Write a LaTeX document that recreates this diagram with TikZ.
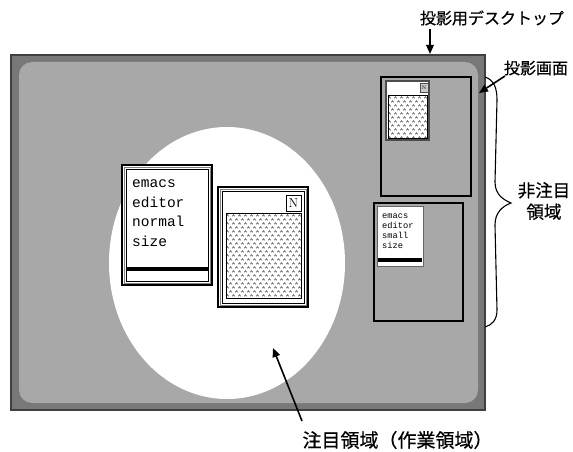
\documentclass[tikz,border=0pt]{standalone}
\usepackage{fontspec}
\newfontfamily\jp[FakeBold=0.6]{Noto Sans CJK JP}
\newfontfamily\mono{Liberation Mono}
\usetikzlibrary{arrows.meta}
\definecolor{framegray}{gray}{0.47}
\definecolor{innergray}{gray}{0.66}
\definecolor{frameline}{gray}{0.25}
\newcommand\caretfill[4]{%
  \begin{scope}
    \clip (#1,#2) rectangle (#3,#4);
    \foreach \cfr in {0,...,22}{%
      \pgfmathsetmacro\cfyy{#2+2.5+\cfr*4}%
      \pgfmathsetmacro\cfoff{mod(\cfr,2)*3}%
      \foreach \cfc in {0,...,13}{%
        \pgfmathsetmacro\cfxx{#1+1.5+\cfoff+\cfc*6}%
        \draw[caret] (\cfxx-1.2,\cfyy+0.8) -- (\cfxx,\cfyy-0.8) -- (\cfxx+1.2,\cfyy+0.8);
      }%
    }%
  \end{scope}}
\tikzset{
  lbl/.style={font=\jp\fontsize{16}{16}\selectfont, inner sep=0pt},
  arr/.style={line width=1.6pt, -{Triangle[length=9pt,width=7.5pt]}},
  caret/.style={line width=0.35pt},
  mtext/.style={font=\mono\fontsize{14.5}{14.5}\selectfont, anchor=base west, inner sep=0pt},
  stext/.style={font=\mono\fontsize{8.7}{8.7}\selectfont, anchor=base west, inner sep=0pt},
  proj/.style={draw=black, line width=1.5pt},
}
\begin{document}
\begin{tikzpicture}[x=1pt,y=-1pt]
\useasboundingbox (0,0) rectangle (573,452);
% desktop frame
\fill[framegray] (11,55) rectangle (485,410);
\draw[frameline, line width=2pt] (11,55) rectangle (485,410);
\fill[innergray, rounded corners=13pt] (19,62) rectangle (478,403);
% attention area
\fill[white] (227,263) ellipse [x radius=118, y radius=136];

% left window (emacs normal size)
\fill[white] (122,165) rectangle (212,285);
\draw[line width=1.3pt] (122,165) rectangle (212,285);
\draw[gray, line width=0.6pt] (124,167) rectangle (210,283);
\draw[line width=0.8pt] (126,169) rectangle (208,281);
\fill[black] (126,267) rectangle (208,271);
\node[mtext] (l1) at (132,187) {emacs};
\node[mtext] (l2) at (132,207) {editor};
\node[mtext] (l3) at (132,226) {normal};
\node[mtext] (l4) at (132,246) {size};

% N window
\fill[white] (218,187) rectangle (308,307);
\draw[line width=1.3pt] (218,187) rectangle (308,307);
\draw[gray, line width=0.6pt] (220,189) rectangle (306,305);
\draw[line width=0.8pt] (222,191) rectangle (304,303);
\caretfill{226}{213}{301}{298}
\draw[line width=0.8pt] (226,213) rectangle (301,298);
\draw[line width=0.8pt] (286,195) rectangle (301,211);
\node[font=\fontsize{13}{13}\selectfont, inner sep=0pt] (nbig) at (293.5,203.5) {N};

% projection screens
\draw[proj] (381,77) rectangle (471,196);
\fill[white] (386,81) rectangle (429,140);
\caretfill{388}{95}{427}{138}
\draw[black!70, line width=1.2pt] (386,81) rectangle (429,140);
\draw[line width=0.5pt] (388,95) rectangle (427,138);
\fill[gray!40] (420,83) rectangle (428,92);
\draw[black!70, line width=0.5pt] (420,83) rectangle (428,92);
\node[font=\fontsize{5}{5}\selectfont, inner sep=0pt] (nsmall) at (424,87.5) {N};

\draw[proj] (374,203) rectangle (463,321);
\fill[white] (377,206) rectangle (423,266);
\draw[black!60, line width=1pt] (377,206) rectangle (423,266);
\fill[black] (378,258) rectangle (422,262);
\node[stext] (s1) at (382,218) {emacs};
\node[stext] (s2) at (382,228) {editor};
\node[stext] (s3) at (382,238) {small};
\node[stext] (s4) at (382,248) {size};

% labels
\node[lbl] (desk) at (492,18) {投影用デスクトップ};
\coordinate (deskA) at (430,29);
\coordinate (deskB) at (430,54);
\draw[arr] (deskA) -- (deskB);

\node[lbl] (screen) at (536,68) {投影画面};
\coordinate (scrA) at (505,76);
\coordinate (scrB) at (479,93);
\draw[arr] (scrA) -- (scrB);

\node[font=\jp\fontsize{17.5}{21.5}\selectfont, inner sep=0pt, align=center] (nonatt) at (544,201) {非注目\\領域};
\coordinate (brTop) at (485,77);
\coordinate (brTip) at (511,203);
\coordinate (brBot) at (485,327);
\draw[line width=1.1pt] (brTop) .. controls (494,80) and (497,88) .. (497,100)
  -- (495,182) .. controls (495,195) and (504,200) .. (brTip)
  .. controls (503,206) and (495,212) .. (495,225)
  -- (497,310) .. controls (497,320) and (492,325) .. (brBot);

\node[font=\jp\fontsize{19}{19}\selectfont, inner sep=0pt] (att) at (397.5,440) {注目領域（作業領域）};
\coordinate (attA) at (302,421);
\coordinate (attB) at (273,348);
\draw[arr] (attA) -- (attB);
\end{tikzpicture}
\end{document}
